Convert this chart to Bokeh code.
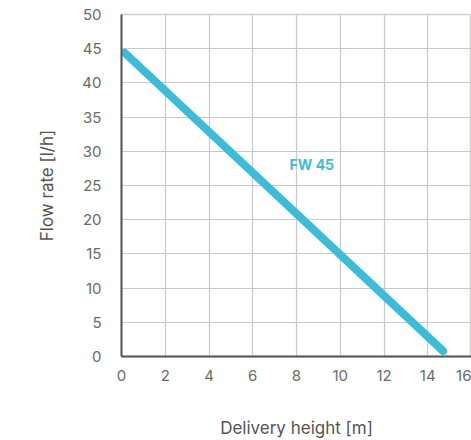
from bokeh.plotting import figure
from bokeh.embed import file_html
from bokeh.resources import INLINE
from bokeh.models import FixedTicker, Range1d
from bokeh.core.properties import value

# Data
height_m = [0.15, 14.7]
flow_lh = [44.4, 0.8]
series_name = "FW 45"
label_x = [8.7]
label_y = [28.0]
x_ticks = [0, 2, 4, 6, 8, 10, 12, 14, 16]
y_ticks = [0, 5, 10, 15, 20, 25, 30, 35, 40, 45, 50]

FONT = "Inter"
TEAL = "#3dbcd7"

p = figure(width=471, height=440, output_backend="svg", toolbar_location=None,
           x_range=Range1d(0, 16), y_range=Range1d(0, 50),
           min_border_left=121, min_border_right=0, min_border_top=14, min_border_bottom=84)
p.outline_line_color = "#d0d0d8"
p.outline_line_width = 1.5
p.background_fill_color = "white"
p.border_fill_color = "white"

p.xaxis.ticker = FixedTicker(ticks=x_ticks)
p.yaxis.ticker = FixedTicker(ticks=y_ticks)
for ax in (p.xaxis[0], p.yaxis[0]):
    ax.axis_line_color = "#555555"
    ax.axis_line_width = 2
    ax.major_tick_line_color = None
    ax.minor_tick_line_color = None
    ax.major_label_text_font = FONT
    ax.major_label_text_font_size = "15px"
    ax.major_label_text_color = "#6a6a6a"
    ax.axis_label_text_font = FONT
    ax.axis_label_text_font_size = "17px"
    ax.axis_label_text_font_style = "normal"
    ax.axis_label_text_color = "#555555"

p.xaxis.axis_label = "Delivery height [m]"
p.yaxis.axis_label = "Flow rate [l/h]"
p.xaxis.major_label_standoff = 7
p.yaxis.major_label_standoff = 14
p.xaxis.axis_label_standoff = 34
p.yaxis.axis_label_standoff = 22

p.xgrid.grid_line_color = "#c8c8d0"
p.ygrid.grid_line_color = "#c8c8d0"
p.xgrid.grid_line_width = 1.2
p.ygrid.grid_line_width = 1.2

p.line(height_m, flow_lh, line_color=TEAL, line_width=8, line_cap="round")
p.text(x=label_x, y=label_y, text=[series_name], text_color=TEAL,
       text_font=value(FONT), text_font_size="14px", text_font_style="bold",
       text_align="center", text_baseline="middle")

open("out.html", "w").write(file_html(p, INLINE))
